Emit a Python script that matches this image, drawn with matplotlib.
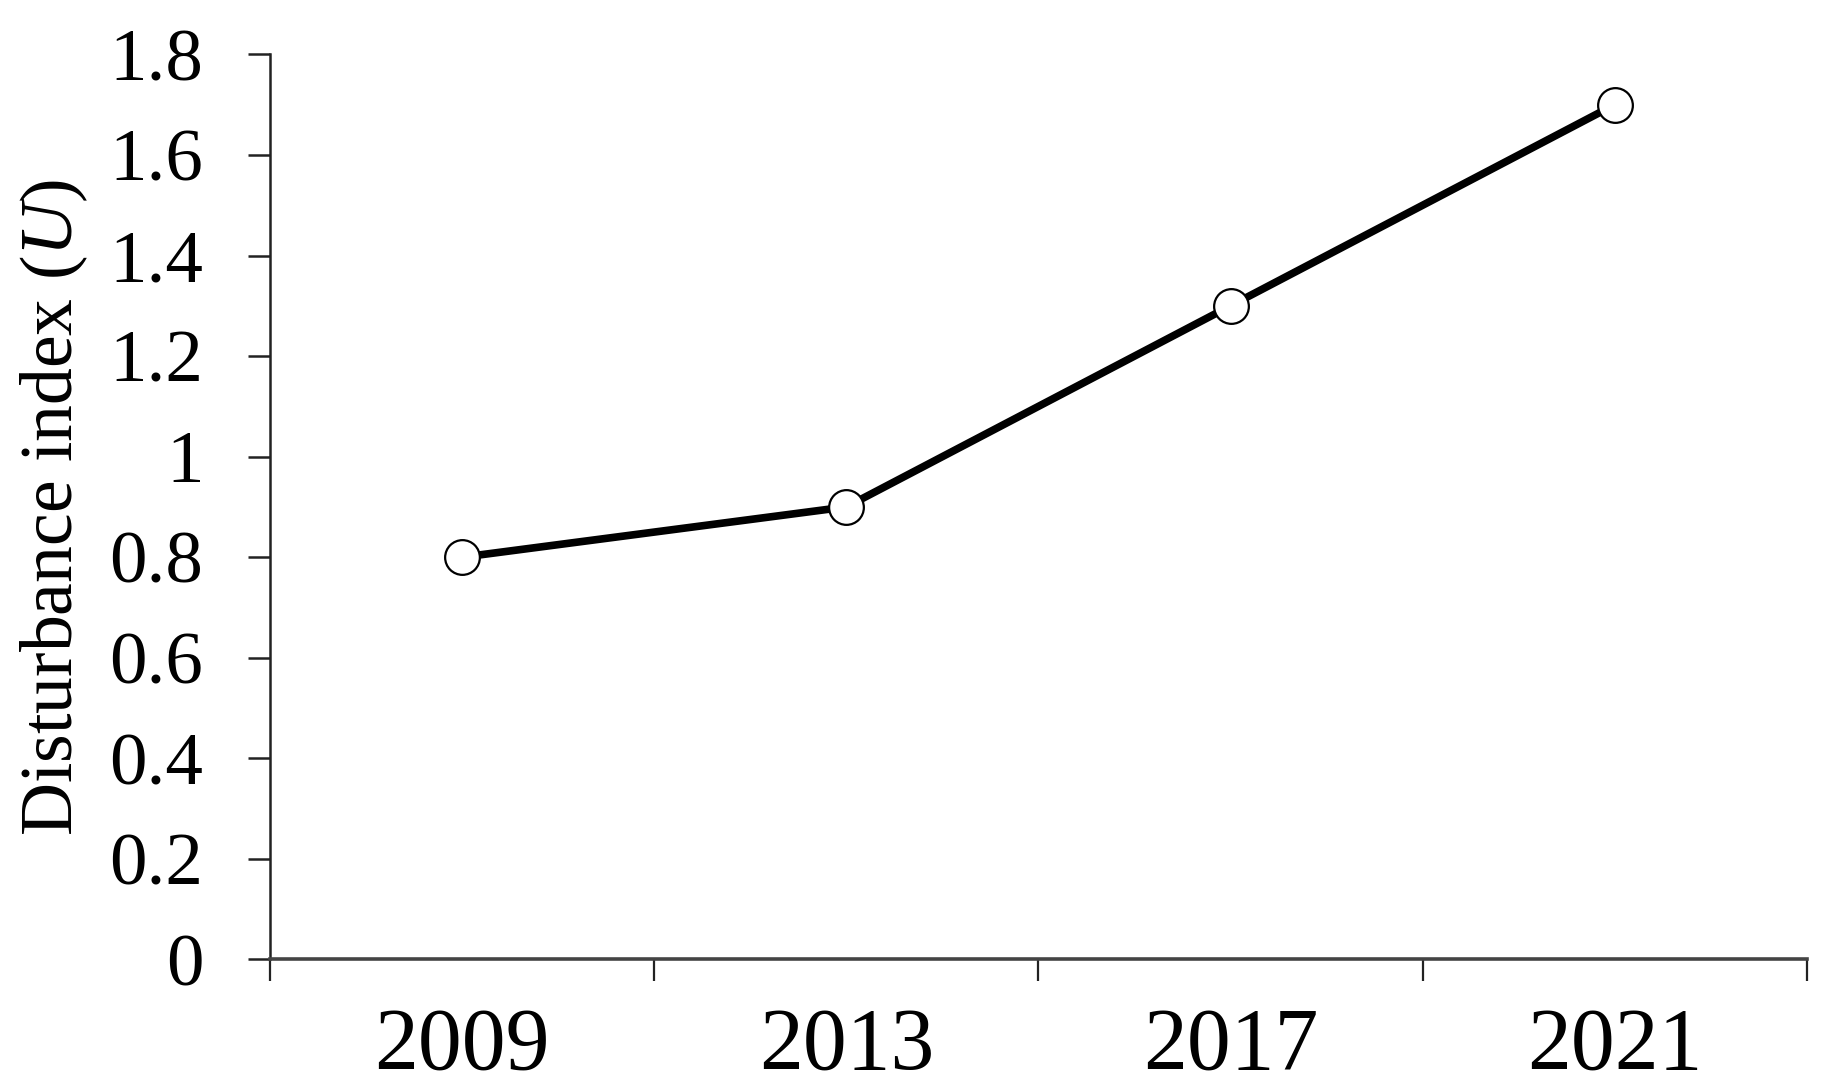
import matplotlib
matplotlib.use("Agg")
import matplotlib.pyplot as plt
import numpy as np

# ------------------------------------------------------------
# DATA
# ------------------------------------------------------------
years = ["2009", "2013", "2017", "2021"]
disturbance = [0.8, 0.9, 1.3, 1.7]
y_ticks = [0, 0.2, 0.4, 0.6, 0.8, 1, 1.2, 1.4, 1.6, 1.8]
y_tick_labels = ["0", "0.2", "0.4", "0.6", "0.8", "1", "1.2", "1.4", "1.6", "1.8"]

# ------------------------------------------------------------
# PLOT
# ------------------------------------------------------------
plt.rcParams["font.family"] = ["Liberation Serif", "DejaVu Serif"]
plt.rcParams["mathtext.fontset"] = "custom"
plt.rcParams["mathtext.it"] = "Liberation Serif:italic"
plt.rcParams["mathtext.rm"] = "Liberation Serif"

fig = plt.figure(figsize=(18.25, 10.89), dpi=100)
ax = fig.add_axes([0.148, 0.119, 0.842, 0.831])

x = np.arange(len(years))
ax.plot(x, disturbance, color="black", lw=5.5, marker="o", markersize=25,
        markerfacecolor="white", markeredgecolor="black", markeredgewidth=1.6,
        zorder=3)

ax.set_xlim(-0.5, len(years) - 0.5)
ax.set_ylim(0, 1.8)

# category labels centred, ticks between categories (Excel style)
ax.set_xticks(np.arange(-0.5, len(years), 1.0))
ax.set_xticklabels([])
ax.set_xticks(x, minor=True)
ax.set_xticklabels(years, minor=True, fontsize=63)
ax.tick_params(axis="x", which="minor", length=0, pad=34)
ax.tick_params(axis="x", which="major", length=16, width=1.6,
               direction="out", color="#222222")

ax.set_yticks(y_ticks)
ax.set_yticklabels(y_tick_labels, fontsize=54)
ax.tick_params(axis="y", length=16, width=1.8, direction="out",
               color="#222222", pad=32)

ax.set_ylabel("Disturbance index ($\\mathit{U}$)", fontsize=53, labelpad=14)

for side in ["top", "right"]:
    ax.spines[side].set_visible(False)
ax.spines["left"].set_linewidth(1.8)
ax.spines["bottom"].set_linewidth(2.6)
ax.spines["left"].set_color("#222222")
ax.spines["bottom"].set_color("#444444")

fig.savefig("out.png", dpi=100)
